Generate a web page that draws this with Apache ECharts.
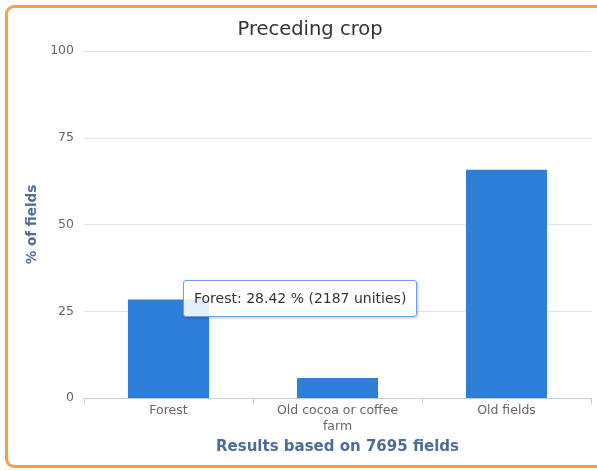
<!DOCTYPE html>
<html>
<head>
<meta charset="utf-8">
<script src="https://cdn.jsdelivr.net/npm/echarts@6/dist/echarts.min.js"></script>
<style>
html,body{margin:0;padding:0;background:#fff;width:597px;height:471px;overflow:hidden;}
#frame{position:absolute;left:5px;top:5px;width:620px;height:463px;border:3px solid #f9a046;border-radius:9px;box-sizing:border-box;}
#chart{position:absolute;left:0;top:0;width:597px;height:471px;}
</style>
</head>
<body>
<div id="frame"></div>
<div id="chart"></div>
<script>
const categories = ['Forest', 'Old cocoa or coffee\nfarm', 'Old fields'];
const tooltipNames = ['Forest', 'Old cocoa or coffee farm', 'Old fields'];
const percentages = [28.42, 5.78, 65.80];
const counts = [2187, 445, 5063];
const yTicks = [0, 25, 50, 75, 100];
const totalFields = 7695;

const chart = echarts.init(document.getElementById('chart'), null, {renderer: 'canvas'});
const font = 'DejaVu Sans, sans-serif';
chart.setOption({
  animation: false,
  title: {
    text: 'Preceding crop',
    left: 305,
    textAlign: 'center',
    top: 15,
    textStyle: {fontSize: 19.5, fontWeight: 'normal', color: '#333', fontFamily: font}
  },
  grid: {left: 84, right: 6, top: 51, bottom: 73, containLabel: false},
  tooltip: {
    trigger: 'item',
    alwaysShowContent: true,
    transitionDuration: 0,
    position: [183, 280],
    backgroundColor: 'rgba(255,255,255,0.88)',
    borderColor: '#6f9fe0',
    borderWidth: 1,
    borderRadius: 3,
    padding: [7, 10, 7, 10],
    extraCssText: 'box-shadow:1px 1px 3px rgba(0,0,0,0.25);',
    textStyle: {fontSize: 14, color: '#333', fontFamily: font},
    formatter: p => tooltipNames[p.dataIndex] + ': ' + percentages[p.dataIndex].toFixed(2) + ' % (' + counts[p.dataIndex] + ' unities)'
  },
  xAxis: {
    type: 'category',
    data: categories,
    name: 'Results based on ' + totalFields + ' fields',
    nameLocation: 'middle',
    nameGap: 40,
    nameTextStyle: {fontSize: 15, fontWeight: 'bold', color: '#4d6d96', fontFamily: font},
    axisLine: {lineStyle: {color: '#c0d0e0', width: 1}},
    axisTick: {show: true, alignWithLabel: false, length: 6, lineStyle: {color: '#c0d0e0'}},
    axisLabel: {fontSize: 12.5, color: '#666', fontFamily: font, margin: 5, lineHeight: 16}
  },
  yAxis: {
    type: 'value',
    min: 0,
    max: 100,
    interval: 25,
    name: '% of fields',
    nameLocation: 'middle',
    nameGap: 45,
    nameTextStyle: {fontSize: 13.5, fontWeight: 'bold', color: '#4d6d96', fontFamily: font},
    axisLine: {show: false},
    axisTick: {show: false},
    axisLabel: {fontSize: 12.5, color: '#666', fontFamily: font, margin: 10,
      formatter: v => yTicks.includes(v) ? String(v) : ''},
    splitLine: {lineStyle: {color: '#e3e3e3', width: 1}}
  },
  series: [{
    type: 'bar',
    data: percentages,
    barWidth: '48%',
    itemStyle: {color: '#2f7ed8'}
  }]
});
chart.dispatchAction({type: 'showTip', seriesIndex: 0, dataIndex: 0});
</script>
</body>
</html>
